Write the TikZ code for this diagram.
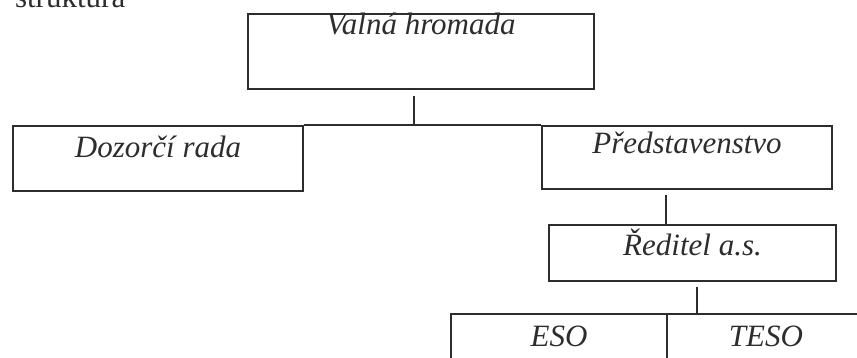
\documentclass[tikz,border=0pt]{standalone}
\usepackage{fontspec}
\setmainfont{Liberation Serif}
\usepackage{tikz}
\usetikzlibrary{positioning}
\definecolor{scanink}{RGB}{45, 45, 45}

\begin{document}
\begin{tikzpicture}[x=0.5pt, y=-0.5pt,
    box/.style={draw=scanink, line width=1pt, anchor=north west, inner sep=0pt, align=center, text=scanink, font=\fontsize{15.5}{18}\selectfont\itshape},
    link/.style={draw=scanink, line width=1pt}
]
    \useasboundingbox (0,0) rectangle (857,358);
    \clip (0,0) rectangle (857,358);

    \node[anchor=base west, text=scanink, font=\fontsize{15.5}{18}\selectfont] (title) at (8,8) {struktura};

    \node[box, minimum width=173pt, text height=10.5pt, text depth=27pt] (valna) at (247,13) {Valná hromada};
    \node[box, minimum width=145pt, text height=15.5pt, text depth=17pt] (dozorci) at (12,125) {Dozorčí rada};
    \node[box, minimum width=145pt, text height=14pt, text depth=17.5pt] (predst) at (541,125) {Představenstvo};
    \node[box, minimum width=143.5pt, text height=15.5pt, text depth=12.5pt] (reditel) at (548,224) {Ředitel a.s.};
    \node[box, minimum width=108pt, text height=16pt, text depth=34pt] (eso) at (450,313) {ESO};
    \node[box, minimum width=99pt, text height=16pt, text depth=34pt] (teso) at (666,313) {TESO};

    % free ends of the short links
    \coordinate (v1) at (414,96);
    \coordinate (v2) at (666,195);
    \coordinate (v3) at (697,287);

    \draw[link] (v1) -- (v1 |- dozorci.north);
    \draw[link] (dozorci.north east) -- (predst.north west);
    \draw[link] (v2) -- (v2 |- reditel.north);
    \draw[link] (v3) -- (v3 |- eso.north);
\end{tikzpicture}
\end{document}
